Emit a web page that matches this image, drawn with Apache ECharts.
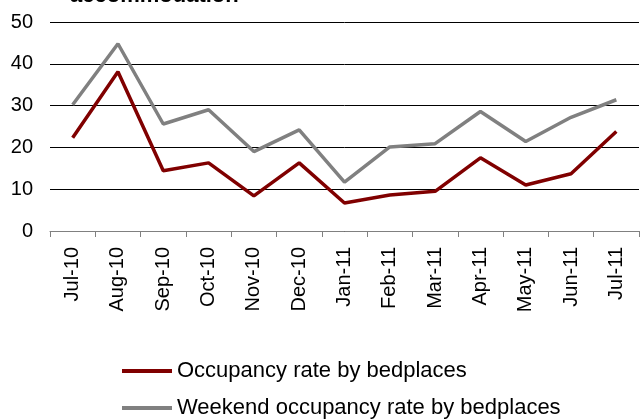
<!DOCTYPE html>
<html>
<head>
<meta charset="utf-8">
<script src="https://cdn.jsdelivr.net/npm/echarts@6/dist/echarts.min.js"></script>
<style>
html,body{margin:0;padding:0;background:#fff;}
#chart{width:640px;height:419px;}
</style>
</head>
<body>
<div id="chart"></div>
<script>
const categories = ['Jul-10','Aug-10','Sep-10','Oct-10','Nov-10','Dec-10','Jan-11','Feb-11','Mar-11','Apr-11','May-11','Jun-11','Jul-11'];
const occupancy = [22.3, 38.1, 14.4, 16.3, 8.4, 16.3, 6.7, 8.6, 9.5, 17.5, 11.0, 13.7, 23.8];
const weekendOccupancy = [30.2, 44.8, 25.6, 29.0, 19.0, 24.2, 11.7, 20.1, 20.9, 28.6, 21.4, 27.2, 31.4];
const seriesNames = ['Occupancy rate by bedplaces', 'Weekend occupancy rate by bedplaces'];
const titleText = 'accommodation';

const legendCommon = {
  orient: 'horizontal',
  left: 122,
  padding: 0,
  itemGap: 10,
  itemWidth: 50,
  itemHeight: 4,
  icon: 'rect',
  textStyle: {fontSize: 22, color: '#000', lineHeight: 22, padding: [0, 0, 0, 0], fontFamily: 'Liberation Sans, Arial, sans-serif'}
};

const chart = echarts.init(document.getElementById('chart'), null, {renderer: 'canvas'});
chart.setOption({
  animation: false,
  backgroundColor: '#ffffff',
  textStyle: {fontFamily: 'Liberation Sans, Arial, sans-serif'},
  graphic: [{
    type: 'text',
    left: 70,
    top: -15,
    style: {
      text: titleText,
      font: 'bold 22px "Liberation Sans", Arial, sans-serif',
      fill: '#000'
    }
  }],
  grid: {left: 50, right: 1, top: 22, bottom: 188, containLabel: false},
  legend: [
    Object.assign({}, legendCommon, {top: 360, data: [seriesNames[0]]}),
    Object.assign({}, legendCommon, {top: 397, data: [seriesNames[1]]})
  ],
  xAxis: {
    type: 'category',
    data: categories,
    boundaryGap: true,
    axisLine: {show: true, lineStyle: {color: '#808080', width: 1}},
    axisTick: {show: true, length: 6, lineStyle: {color: '#808080'}},
    axisLabel: {rotate: 90, fontSize: 20, color: '#000', margin: 16, fontFamily: 'Liberation Sans, Arial, sans-serif'},
    splitLine: {show: false}
  },
  yAxis: {
    type: 'value',
    min: 0,
    max: 50,
    interval: 10,
    axisLine: {show: false},
    axisTick: {show: false},
    axisLabel: {fontSize: 20, color: '#000', margin: 17, fontFamily: 'Liberation Sans, Arial, sans-serif'},
    splitLine: {show: true, lineStyle: {color: '#000', width: 1}}
  },
  series: [
    {
      name: seriesNames[0],
      type: 'line',
      data: occupancy,
      symbol: 'none',
      lineStyle: {color: '#800000', width: 3.5},
      itemStyle: {color: '#800000'},
      z: 3
    },
    {
      name: seriesNames[1],
      type: 'line',
      data: weekendOccupancy,
      symbol: 'none',
      lineStyle: {color: '#808080', width: 3.5},
      itemStyle: {color: '#808080'},
      z: 2
    }
  ]
});
</script>
</body>
</html>
